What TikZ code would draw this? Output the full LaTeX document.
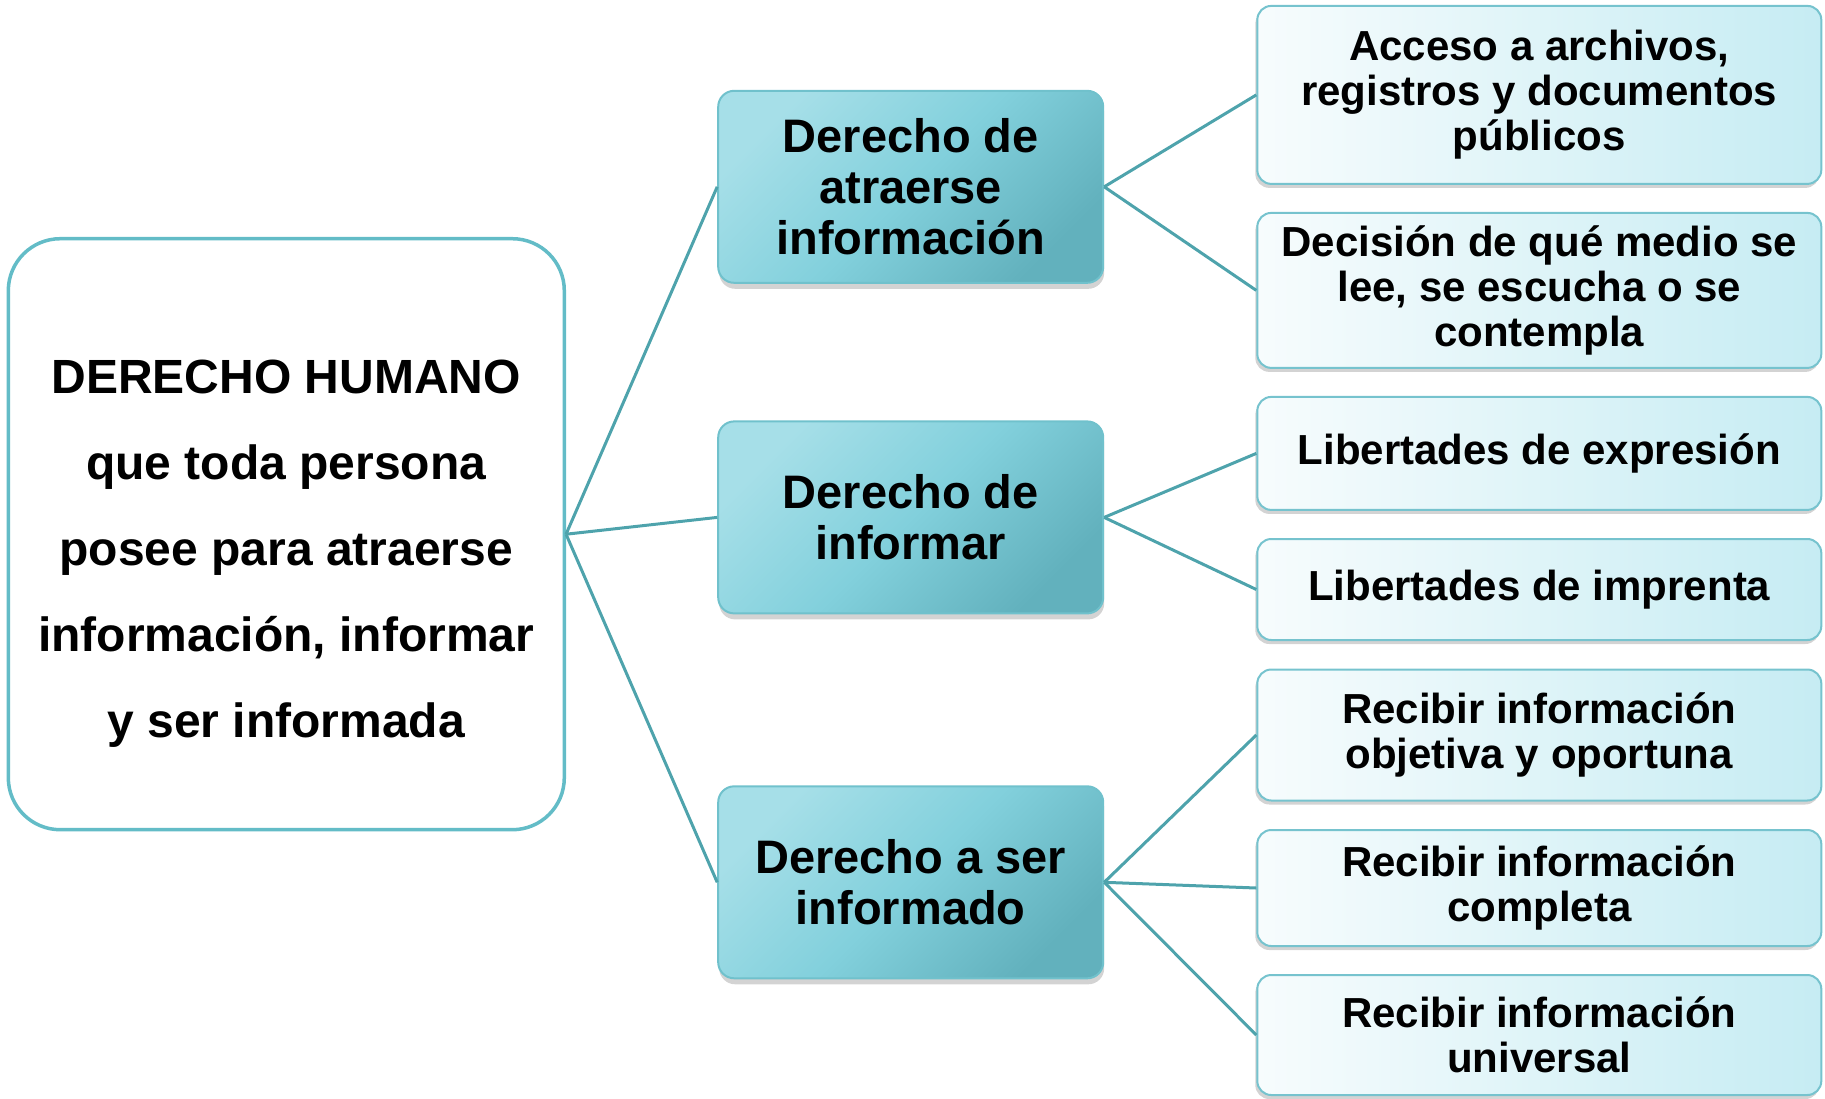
\documentclass[tikz,border=0pt]{standalone}
\usepackage{fontspec}
\setmainfont{Liberation Sans}
\usetikzlibrary{positioning}
\usetikzlibrary{shadows}
\definecolor{rootline}{RGB}{99,188,199}
\definecolor{linkteal}{RGB}{78,163,172}
\definecolor{midlight}{RGB}{166,223,232}
\definecolor{midcyan}{RGB}{130,208,220}
\definecolor{middark}{RGB}{98,177,189}
\definecolor{midline}{RGB}{112,193,204}
\definecolor{leaflight}{RGB}{247,252,253}
\definecolor{leafcyan}{RGB}{198,236,243}
\definecolor{leafline}{RGB}{118,195,206}
\tikzset{
  every node/.append style={align=center, font=\bfseries},
  root/.style={draw=rootline, line width=3.5pt, fill=white, rounded corners=52pt,
    minimum width=556pt, minimum height=591pt, inner sep=0pt, text height=417pt,
    font=\fontsize{48}{86}\selectfont\bfseries},
  branch/.style={draw=midline, line width=2pt, rounded corners=16pt,
    top color=midlight, bottom color=middark, middle color=midcyan, shading angle=45,
    drop shadow={shadow xshift=1pt, shadow yshift=-6pt, opacity=0.35},
    minimum width=385pt, minimum height=192pt, inner sep=0pt,
    font=\fontsize{47}{51}\selectfont\bfseries},
  leaf/.style={draw=leafline, line width=2pt, rounded corners=14pt,
    left color=leaflight, right color=leafcyan,
    drop shadow={shadow xshift=-2pt, shadow yshift=-4pt, opacity=0.35},
    minimum width=564pt, inner sep=0pt,
    font=\fontsize{42}{45}\selectfont\bfseries}
}
\tikzstyle{link} = [draw=linkteal, line width=3pt]

\begin{document}
\begin{tikzpicture}[x=1pt, y=-1pt]
  \useasboundingbox (0,0) rectangle (1825,1098);

  \node[root] (derecho) at (286.3,534.2) {DERECHO HUMANO\\que toda persona\\posee para atraerse\\información, informar\\y ser informada};

  \node[branch] (atraerse) at (910.7,186.8) {Derecho de\\atraerse\\información};
  \node[branch] (informar) at (910.7,517.4) {Derecho de\\informar};
  \node[branch] (informado) at (910.7,882.3) {Derecho a ser\\informado};

  \node[leaf, minimum height=178pt] (acceso) at (1539.3,94.9) {Acceso a archivos,\\registros y documentos\\públicos};
  \node[leaf, minimum height=155pt] (decision) at (1539.3,290.4) {Decisión de qué medio se\\lee, se escucha o se\\contempla};
  \node[leaf, minimum height=113pt] (expresion) at (1539.3,453.4) {Libertades de expresión};
  \node[leaf, minimum height=101pt] (imprenta) at (1539.3,589.5) {Libertades de imprenta};
  \node[leaf, minimum height=131pt] (objetiva) at (1539.3,735) {Recibir información\\objetiva y oportuna};
  \node[leaf, minimum height=116pt] (completa) at (1539.3,888) {Recibir información\\completa};
  \node[leaf, minimum height=120pt] (universal) at (1539.3,1035) {Recibir información\\universal};

  \draw[link] (derecho.east) -- (atraerse.west);
  \draw[link] (derecho.east) -- (informar.west);
  \draw[link] (derecho.east) -- (informado.west);

  \draw[link] (atraerse.east) -- (acceso.west);
  \draw[link] (atraerse.east) -- (decision.west);
  \draw[link] (informar.east) -- (expresion.west);
  \draw[link] (informar.east) -- (imprenta.west);
  \draw[link] (informado.east) -- (objetiva.west);
  \draw[link] (informado.east) -- (completa.west);
  \draw[link] (informado.east) -- (universal.west);
\end{tikzpicture}
\end{document}
